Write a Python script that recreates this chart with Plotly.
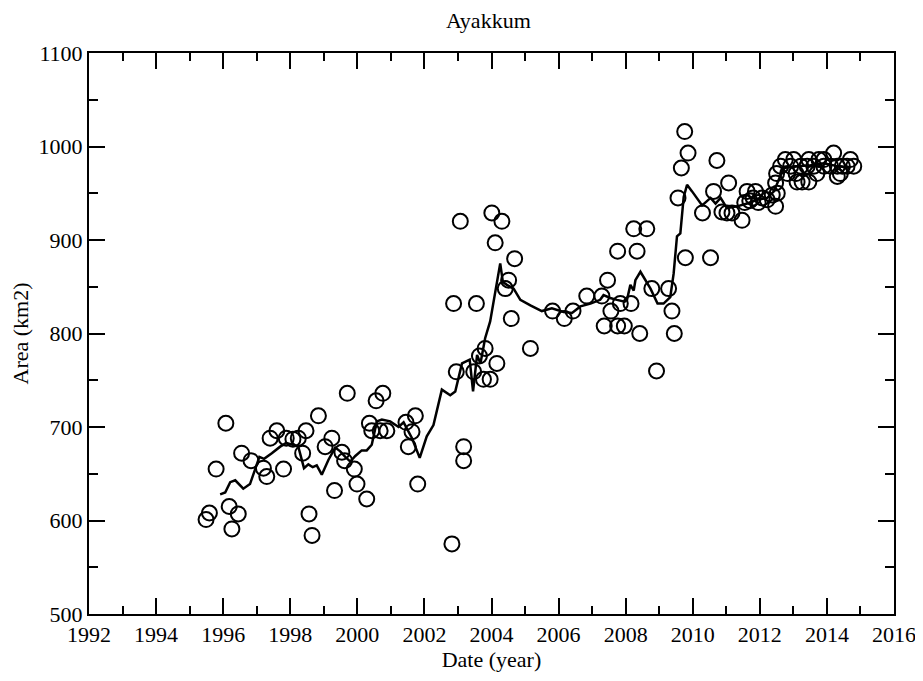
import plotly.graph_objects as go

# Observed (circles)
obs_year = [1995.49, 1995.59, 1995.79, 1996.08, 1996.18, 1996.26, 1996.45, 1996.55, 1996.83,
            1997.20, 1997.30, 1997.40, 1997.60, 1997.80, 1997.88, 1998.08, 1998.24, 1998.37,
            1998.47, 1998.56, 1998.65, 1998.84, 1999.04, 1999.24, 1999.32, 1999.54, 1999.62,
            1999.70, 1999.91, 1999.99, 2000.28, 2000.36, 2000.43, 2000.56, 2000.68, 2000.76,
            2000.88, 2001.45, 2001.52, 2001.63, 2001.73, 2001.80, 2002.82, 2002.87, 2002.95,
            2003.07, 2003.17, 2003.17, 2003.47, 2003.55, 2003.64, 2003.76, 2003.81, 2003.96,
            2004.01, 2004.11, 2004.16, 2004.31, 2004.41, 2004.51, 2004.59, 2004.69, 2005.16,
            2005.82, 2006.17, 2006.43, 2006.84, 2007.29, 2007.36, 2007.46, 2007.56, 2007.76,
            2007.76, 2007.84, 2007.96, 2008.16, 2008.24, 2008.34, 2008.42, 2008.63, 2008.78,
            2008.92, 2009.28, 2009.38, 2009.45, 2009.56, 2009.66, 2009.76, 2009.78, 2009.86,
            2010.29, 2010.53, 2010.62, 2010.72, 2010.87, 2011.02, 2011.07, 2011.17, 2011.47,
            2011.55, 2011.62, 2011.70, 2011.80, 2011.87, 2011.95, 2012.07, 2012.22, 2012.37,
            2012.47, 2012.47, 2012.52, 2012.50, 2012.62, 2012.76, 2012.83, 2012.92, 2013.01,
            2013.08, 2013.11, 2013.22, 2013.26, 2013.41, 2013.46, 2013.46, 2013.61, 2013.70,
            2013.76, 2013.91, 2013.91, 2014.11, 2014.20, 2014.31, 2014.31, 2014.40, 2014.46,
            2014.60, 2014.70, 2014.80]
obs_area = [601, 608, 655, 704, 615, 591, 607, 672, 664,
            656, 647, 688, 696, 655, 688, 687, 688, 672,
            696, 607, 584, 712, 679, 688, 632, 673, 664,
            736, 655, 639, 623, 704, 696, 728, 696, 736,
            696, 705, 679, 695, 712, 639, 575, 832, 759,
            920, 679, 664, 759, 832, 776, 751, 784, 751,
            929, 897, 768, 920, 848, 857, 816, 880, 784,
            824, 816, 824, 840, 840, 808, 857, 824, 808,
            888, 832, 808, 832, 912, 888, 800, 912, 848,
            760, 848, 824, 800, 945, 977, 1016, 881, 993,
            929, 881, 952, 985, 930, 929, 961, 929, 921,
            940, 952, 942, 945, 952, 940, 945, 943, 948,
            936, 961, 950, 971, 979, 986, 971, 979, 986,
            971, 962, 979, 962, 979, 986, 962, 979, 971,
            986, 986, 979, 979, 993, 979, 968, 971, 979,
            979, 986, 979]

# Fitted / smoothed line
fit_year = [1995.91, 1996.06, 1996.21, 1996.36, 1996.60, 1996.80, 1997.08, 1997.22, 1997.45,
            1997.70, 1997.88, 1998.10, 1998.24, 1998.41, 1998.54, 1998.67, 1998.79, 1998.94,
            1999.14, 1999.34, 1999.49, 1999.64, 1999.79, 1999.94, 2000.13, 2000.28, 2000.43,
            2000.58, 2000.73, 2000.98, 2001.23, 2001.38, 2001.63, 2001.86, 2002.07, 2002.27,
            2002.52, 2002.77, 2002.92, 2003.12, 2003.22, 2003.35, 2003.45, 2003.57, 2003.67,
            2003.81, 2003.96, 2004.11, 2004.26, 2004.34, 2004.46, 2004.66, 2004.86, 2005.16,
            2005.50, 2005.80, 2006.15, 2006.40, 2006.65, 2006.95, 2007.24, 2007.34, 2007.54,
            2007.74, 2007.97, 2008.04, 2008.14, 2008.24, 2008.29, 2008.44, 2008.59, 2008.74,
            2008.95, 2009.13, 2009.33, 2009.43, 2009.53, 2009.63, 2009.73, 2009.83, 2009.98,
            2010.28, 2010.53, 2010.68, 2010.83, 2011.02, 2011.32, 2011.62, 2011.92, 2012.22,
            2012.42, 2012.56, 2012.71, 2013.11, 2013.51, 2013.91, 2014.31, 2014.70]
fit_area = [628, 630, 641, 643, 634, 639, 668, 666, 672,
            679, 683, 681, 679, 656, 660, 657, 659, 649,
            665, 678, 674, 668, 663, 669, 675, 675, 681,
            706, 708, 706, 700, 705, 688, 667, 690, 702,
            740, 734, 738, 768, 770, 772, 738, 777, 768,
            795, 813, 846, 875, 855, 852, 848, 836, 830,
            824, 827, 823, 822, 829, 832, 836, 841, 838,
            836, 834, 836, 852, 846, 857, 866, 857, 848,
            832, 832, 839, 864, 904, 907, 946, 959, 952,
            937, 945, 939, 945, 934, 936, 939, 943, 945,
            952, 964, 977, 979, 980, 982, 979, 977]

x_ticks = [1992, 1994, 1996, 1998, 2000, 2002, 2004, 2006, 2008, 2010, 2012, 2014, 2016]
y_ticks = [500, 600, 700, 800, 900, 1000, 1100]

FONT = "Liberation Serif, Times New Roman, serif"

fig = go.Figure()
fig.add_trace(go.Scatter(x=obs_year, y=obs_area, mode="markers",
                         marker=dict(symbol="circle-open", size=15, color="black",
                                     line=dict(width=2, color="black")),
                         showlegend=False))
fig.add_trace(go.Scatter(x=fit_year, y=fit_area, mode="lines",
                         line=dict(color="black", width=2.5), showlegend=False))

axis_common = dict(showline=True, linecolor="black", linewidth=2, mirror="allticks",
                   ticks="inside", ticklen=16, tickwidth=2, tickcolor="black",
                   showgrid=False, zeroline=False, automargin=False,
                   tickfont=dict(family=FONT, size=22, color="black"))

fig.update_layout(
    width=915, height=673,
    margin=dict(l=81, r=29, t=45, b=67),
    paper_bgcolor="white", plot_bgcolor="white",
    title=dict(text="Ayakkum", x=0.525, xanchor="center", y=0.982, yanchor="middle",
               font=dict(family=FONT, size=22, color="black")),
    xaxis=dict(range=[1992, 2016], tickvals=x_ticks, ticktext=[str(v) for v in x_ticks],
               minor=dict(dtick=1, tick0=1992, ticks="inside", ticklen=8, tickwidth=2,
                          tickcolor="black", showgrid=False),
               title=dict(text="Date (year)", font=dict(family=FONT, size=22, color="black"),
                          standoff=4),
               **axis_common),
    yaxis=dict(range=[500, 1100], tickvals=y_ticks, ticktext=[str(v) for v in y_ticks],
               minor=dict(dtick=50, tick0=500, ticks="inside", ticklen=9, tickwidth=2,
                          tickcolor="black", showgrid=False),
               title=dict(text="Area (km2)", font=dict(family=FONT, size=22, color="black"),
                          standoff=10),
               **axis_common),
)

fig.write_html("out.html")
